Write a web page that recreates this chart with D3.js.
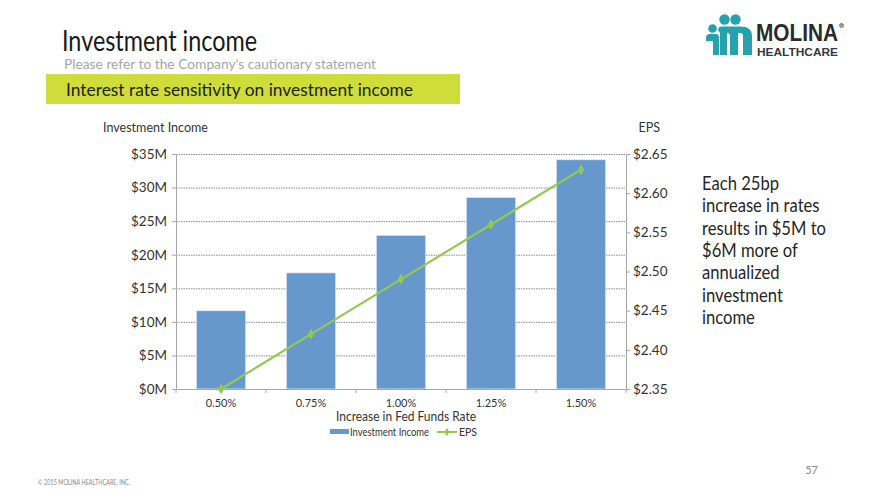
<!DOCTYPE html>
<html><head><meta charset="utf-8">
<script src="https://cdn.jsdelivr.net/npm/d3@7"></script>
<style>
html,body{margin:0;padding:0;background:#fff;}
svg{display:block;}
text{font-family:Lato,"Open Sans","Noto Sans",sans-serif;}
</style></head>
<body>
<svg id="c" width="880" height="495"></svg>
<script>
const categories = ["0.50%","0.75%","1.00%","1.25%","1.50%"];
const investmentIncome = [11.66, 17.3, 22.9, 28.55, 34.15];
const eps = [2.35, 2.42, 2.49, 2.56, 2.63];
const leftTicks = [0,5,10,15,20,25,30,35];
const rightTicks = [2.35,2.40,2.45,2.50,2.55,2.60,2.65];
const bulletLines = ["Each 25bp","increase in rates","results in $5M to","$6M more of","annualized","investment","income"];

const svg = d3.select("#c");
function fit(sel, w){ sel.attr("textLength",w).attr("lengthAdjust","spacingAndGlyphs"); return sel; }

// Title
fit(svg.append("text").attr("x",62).attr("y",50.5).attr("font-size",28).attr("fill","#1a1a1a")
  .text("Investment income"),195);
fit(svg.append("text").attr("x",64).attr("y",68.5).attr("font-size",12.5).attr("fill","#a6a6a6")
  .text("Please refer to the Company’s cautionary statement"),312);
svg.append("rect").attr("x",46).attr("y",74).attr("width",414).attr("height",30).attr("fill","#cfdd3b");
fit(svg.append("text").attr("x",66).attr("y",96).attr("font-size",18).attr("fill","#1e1e1e")
  .text("Interest rate sensitivity on investment income"),347);

// Logo
const teal = "#26a2ae";
const lg = svg.append("g");
lg.append("circle").attr("cx",712.5).attr("cy",28.5).attr("r",4.3).attr("fill",teal);
lg.append("circle").attr("cx",724.5).attr("cy",19.5).attr("r",5.2).attr("fill",teal);
lg.append("circle").attr("cx",735.5).attr("cy",19.5).attr("r",5.2).attr("fill",teal);
lg.append("path").attr("fill",teal).attr("d","M706,38 Q706,34 710,34 L716,34 Q719,34 719,38 L719,55 L713,55 L713,41 L706,41 Z");
lg.append("path").attr("fill",teal).attr("d","M718,30 Q718,26.5 722,26.5 L740,26.5 Q752,26.5 752,36 L752,55 L743,55 L743,36 Q743,33 740,33 L738,33 L738,55 L730,55 L730,36 Q730,33 727,33 L727,55 L720,55 L720,33 Z");
fit(svg.append("text").attr("x",756).attr("y",41).attr("font-size",23).attr("font-weight","bold").attr("fill","#2b2b2b")
  .style("font-family","'Liberation Sans','Open Sans',sans-serif").text("MOLINA"),82);
// registered mark drawn as a tiny logo shape
lg.append("circle").attr("cx",841.5).attr("cy",25.5).attr("r",2).attr("fill","none").attr("stroke","#2b2b2b").attr("stroke-width",0.6);
lg.append("path").attr("d","M840.8,26.8 V24.3 H841.9 Q842.6,24.3 842.6,25 Q842.6,25.6 841.9,25.6 H840.8 M841.9,25.6 L842.6,26.8").attr("fill","none").attr("stroke","#2b2b2b").attr("stroke-width",0.5);
fit(svg.append("text").attr("x",757).attr("y",56).attr("font-size",11.5).attr("font-weight","bold").attr("fill","#2f3a44")
  .style("font-family","'Liberation Sans','Open Sans',sans-serif").text("HEALTHCARE"),81);

// Chart
const x0 = 176, x1 = 626, yTop = 154, yBot = 389;
const x = d3.scaleBand().domain(categories).range([x0,x1]).paddingInner(0.45).paddingOuter(0.225);
const xc = d3.scaleBand().domain(categories).range([x0,x1]);
const yL = d3.scaleLinear().domain([0,35]).range([yBot,yTop]);
const yR = d3.scaleLinear().domain([2.35,2.65]).range([yBot,yTop]);

const g = svg.append("g");
g.selectAll("line.grid").data(leftTicks.slice(1)).enter().append("line")
  .attr("x1",x0).attr("x2",x1).attr("y1",d=>yL(d)+0.5).attr("y2",d=>yL(d)+0.5)
  .attr("stroke","#8c8c8c").attr("stroke-width",1).attr("stroke-dasharray","1.5,1");

const la = g.append("g").attr("transform",`translate(${x0},0)`)
  .call(d3.axisLeft(yL).tickValues(leftTicks).tickFormat(d=>"$"+d+"M").tickSize(4).tickPadding(5));
la.select(".domain").attr("stroke","#a6a6a6");
la.selectAll(".tick line").attr("stroke","#a6a6a6");
la.selectAll("text").attr("fill","#333").attr("font-size",13.5).style("font-family","Lato,sans-serif");

const ra = g.append("g").attr("transform",`translate(${x1},0)`)
  .call(d3.axisRight(yR).tickValues(rightTicks).tickFormat(d=>"$"+d.toFixed(2)).tickSize(4).tickPadding(3));
ra.select(".domain").attr("stroke","#a6a6a6");
ra.selectAll(".tick line").attr("stroke","#a6a6a6");
ra.selectAll("text").attr("fill","#333").attr("font-size",13.5).style("font-family","Lato,sans-serif");

g.selectAll("rect.bar").data(investmentIncome).enter().append("rect")
  .attr("x",(d,i)=>x(categories[i])).attr("width",x.bandwidth())
  .attr("y",d=>yL(d)).attr("height",d=>yBot-yL(d))
  .attr("fill","#6798cc").attr("stroke","#e8eef7").attr("stroke-width",0.8);

const ba = g.append("g").attr("transform",`translate(0,${yBot})`)
  .call(d3.axisBottom(xc).tickSize(0).tickPadding(10));
ba.select(".domain").attr("stroke","#a6a6a6");
ba.selectAll("text").attr("fill","#333").attr("font-size",11).style("font-family","Lato,sans-serif");
g.selectAll("line.xt").data(d3.range(categories.length+1)).enter().append("line")
  .attr("x1",i=>x0+i*xc.step()).attr("x2",i=>x0+i*xc.step()).attr("y1",yBot).attr("y2",yBot+4)
  .attr("stroke","#a6a6a6");

const line = d3.line().x((d,i)=>xc(categories[i])+xc.bandwidth()/2).y(d=>yR(d));
g.append("path").datum(eps).attr("d",line).attr("fill","none").attr("stroke","#93c950").attr("stroke-width",2.2);
g.selectAll("path.mk").data(eps).enter().append("path")
  .attr("d",d3.symbol(d3.symbolDiamond,34)())
  .attr("transform",(d,i)=>`translate(${xc(categories[i])+xc.bandwidth()/2},${yR(d)})`)
  .attr("fill","#93c950");

fit(svg.append("text").attr("x",103).attr("y",132).attr("font-size",12.5).attr("fill","#333").text("Investment Income"),105);
svg.append("text").attr("x",660).attr("y",132).attr("text-anchor","end").attr("font-size",12.5).attr("fill","#333").text("EPS");
fit(svg.append("text").attr("x",336).attr("y",421).attr("font-size",13.5).attr("fill","#333").text("Increase in Fed Funds Rate"),140);

svg.append("rect").attr("x",330).attr("y",429).attr("width",19).attr("height",5).attr("fill","#6798cc");
fit(svg.append("text").attr("x",350).attr("y",436).attr("font-size",10.5).attr("fill","#333").text("Investment Income"),79);
svg.append("line").attr("x1",437).attr("x2",457).attr("y1",432).attr("y2",432).attr("stroke","#93c950").attr("stroke-width",2);
svg.append("path").attr("d",d3.symbol(d3.symbolDiamond,20)()).attr("transform","translate(447,432)").attr("fill","#93c950");
svg.append("text").attr("x",459).attr("y",436).attr("font-size",10.5).attr("fill","#333").text("EPS");

// bullet text
const bt = svg.append("g").selectAll("text").data(bulletLines).enter().append("text")
  .attr("x",702).attr("y",(d,i)=>190+i*22.3).attr("font-size",20).attr("fill","#262626").text(d=>d);
const ref = bt.filter((d,i)=>i===2).node().getComputedTextLength();
const k = 124/ref;
bt.each(function(){ const w=this.getComputedTextLength(); d3.select(this).attr("textLength",w*k).attr("lengthAdjust","spacingAndGlyphs"); });

fit(svg.append("text").attr("x",38).attr("y",485).attr("font-size",7).attr("fill","#8a8a8a").text("© 2015 MOLINA HEALTHCARE, INC."),92);
svg.append("text").attr("x",818).attr("y",474).attr("font-size",11).attr("fill","#8a8a8a").attr("text-anchor","end").text("57");
</script>
</body></html>
